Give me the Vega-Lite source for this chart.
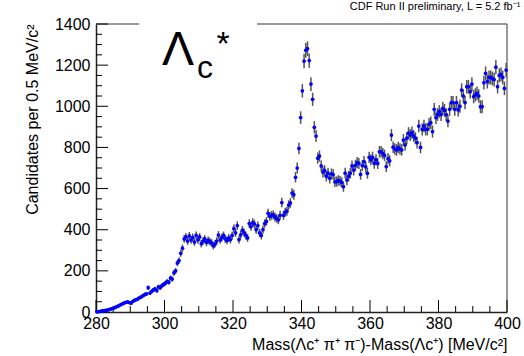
{
 "$schema": "https://vega.github.io/schema/vega-lite/v6.json",
 "width": 411, "height": 288,
 "autosize": "none",
 "padding": {"left": 96, "top": 24, "right": 17, "bottom": 44},
 "background": "white",
 "config": {"view": {"stroke": null}, "font": "Liberation Sans"},
 "title": {"text": "CDF Run II preliminary, L = 5.2 fb⁻¹", "anchor": "end", "fontSize": 11, "fontWeight": "normal", "font": "Liberation Sans", "color": "#000", "offset": 4},
 "datasets": {
  "hist": [
   {"m":280.25,"v":1,"e":1},{"m":280.75,"v":2,"e":1.4},{"m":281.25,"v":3,"e":1.7},{"m":281.75,"v":5,"e":2.2},{"m":282.25,"v":6,"e":2.4},{"m":282.75,"v":8,"e":2.8},{"m":283.25,"v":9,"e":3},{"m":283.75,"v":11,"e":3.3},{"m":284.25,"v":14,"e":3.7},{"m":284.75,"v":17,"e":4.1},
   {"m":285.25,"v":19,"e":4.4},{"m":285.75,"v":24,"e":4.9},{"m":286.25,"v":27,"e":5.2},{"m":286.75,"v":31,"e":5.6},{"m":287.25,"v":36,"e":6},{"m":287.75,"v":40,"e":6.3},{"m":288.25,"v":44,"e":6.6},{"m":288.75,"v":47,"e":6.9},{"m":289.25,"v":49,"e":7},{"m":289.75,"v":46,"e":6.8},
   {"m":290.25,"v":43,"e":6.6},{"m":290.75,"v":52,"e":7.2},{"m":291.25,"v":57,"e":7.5},{"m":291.75,"v":60,"e":7.7},{"m":292.25,"v":64,"e":8},{"m":292.75,"v":70,"e":8.4},{"m":293.25,"v":74,"e":8.6},{"m":293.75,"v":80,"e":8.9},{"m":294.25,"v":85,"e":9.2},{"m":294.75,"v":88,"e":9.4},
   {"m":295.25,"v":118,"e":10.9},{"m":295.75,"v":92,"e":9.6},{"m":296.25,"v":100,"e":10},{"m":296.75,"v":107,"e":10.3},{"m":297.25,"v":112,"e":10.6},{"m":297.75,"v":104,"e":10.2},{"m":298.25,"v":122,"e":11},{"m":298.75,"v":118,"e":10.9},{"m":299.25,"v":128,"e":11.3},{"m":299.75,"v":134,"e":11.6},
   {"m":300.25,"v":140,"e":11.8},{"m":300.75,"v":148,"e":12.2},{"m":301.25,"v":145,"e":12},{"m":301.75,"v":165,"e":12.8},{"m":302.25,"v":160,"e":12.6},{"m":302.75,"v":190,"e":13.8},{"m":303.25,"v":200,"e":14.1},{"m":303.75,"v":238,"e":15.4},{"m":304.25,"v":250,"e":15.8},{"m":304.75,"v":285,"e":16.9},
   {"m":305.25,"v":310,"e":17.6},{"m":305.75,"v":355,"e":18.8},{"m":306.25,"v":365,"e":19.1},{"m":306.75,"v":345,"e":18.6},{"m":307.25,"v":370,"e":19.2},{"m":307.75,"v":350,"e":18.7},{"m":308.25,"v":362,"e":19},{"m":308.75,"v":340,"e":18.4},{"m":309.25,"v":372,"e":19.3},{"m":309.75,"v":350,"e":18.7},
   {"m":310.25,"v":365,"e":19.1},{"m":310.75,"v":332,"e":18.2},{"m":311.25,"v":345,"e":18.6},{"m":311.75,"v":355,"e":18.8},{"m":312.25,"v":338,"e":18.4},{"m":312.75,"v":348,"e":18.7},{"m":313.25,"v":342,"e":18.5},{"m":313.75,"v":336,"e":18.3},{"m":314.25,"v":322,"e":17.9},{"m":314.75,"v":330,"e":18.2},
   {"m":315.25,"v":345,"e":18.6},{"m":315.75,"v":374,"e":19.3},{"m":316.25,"v":350,"e":18.7},{"m":316.75,"v":362,"e":19},{"m":317.25,"v":372,"e":19.3},{"m":317.75,"v":355,"e":18.8},{"m":318.25,"v":348,"e":18.7},{"m":318.75,"v":360,"e":19},{"m":319.25,"v":352,"e":18.8},{"m":319.75,"v":372,"e":19.3},
   {"m":320.25,"v":405,"e":20.1},{"m":320.75,"v":385,"e":19.6},{"m":321.25,"v":420,"e":20.5},{"m":321.75,"v":352,"e":18.8},{"m":322.25,"v":375,"e":19.4},{"m":322.75,"v":398,"e":19.9},{"m":323.25,"v":385,"e":19.6},{"m":323.75,"v":372,"e":19.3},{"m":324.25,"v":360,"e":19},{"m":324.75,"v":430,"e":20.7},
   {"m":325.25,"v":415,"e":20.4},{"m":325.75,"v":435,"e":20.9},{"m":326.25,"v":428,"e":20.7},{"m":326.75,"v":400,"e":20},{"m":327.25,"v":420,"e":20.5},{"m":327.75,"v":385,"e":19.6},{"m":328.25,"v":372,"e":19.3},{"m":328.75,"v":400,"e":20},{"m":329.25,"v":430,"e":20.7},{"m":329.75,"v":440,"e":21},
   {"m":330.25,"v":480,"e":21.9},{"m":330.75,"v":465,"e":21.6},{"m":331.25,"v":470,"e":21.7},{"m":331.75,"v":472,"e":21.7},{"m":332.25,"v":462,"e":21.5},{"m":332.75,"v":455,"e":21.3},{"m":333.25,"v":448,"e":21.2},{"m":333.75,"v":470,"e":21.7},{"m":334.25,"v":532,"e":23.1},{"m":334.75,"v":470,"e":21.7},
   {"m":335.25,"v":485,"e":22},{"m":335.75,"v":490,"e":22.1},{"m":336.25,"v":520,"e":22.8},{"m":336.75,"v":530,"e":23},{"m":337.25,"v":578,"e":24},{"m":337.75,"v":570,"e":23.9},{"m":338.25,"v":655,"e":25.6},{"m":338.75,"v":700,"e":26.5},{"m":339.25,"v":795,"e":28.2},{"m":339.75,"v":945,"e":30.7},
   {"m":340.25,"v":1075,"e":32.8},{"m":340.75,"v":1220,"e":34.9},{"m":341.25,"v":1272,"e":35.7},{"m":341.75,"v":1280,"e":35.8},{"m":342.25,"v":1222,"e":35},{"m":342.75,"v":1108,"e":33.3},{"m":343.25,"v":1034,"e":32.2},{"m":343.75,"v":898,"e":30},{"m":344.25,"v":855,"e":29.2},{"m":344.75,"v":748,"e":27.3},
   {"m":345.25,"v":758,"e":27.5},{"m":345.75,"v":710,"e":26.6},{"m":346.25,"v":680,"e":26.1},{"m":346.75,"v":688,"e":26.2},{"m":347.25,"v":660,"e":25.7},{"m":347.75,"v":675,"e":26},{"m":348.25,"v":650,"e":25.5},{"m":348.75,"v":672,"e":25.9},{"m":349.25,"v":668,"e":25.8},{"m":349.75,"v":633,"e":25.2},
   {"m":350.25,"v":634,"e":25.2},{"m":350.75,"v":640,"e":25.3},{"m":351.25,"v":636,"e":25.2},{"m":351.75,"v":630,"e":25.1},{"m":352.25,"v":609,"e":24.7},{"m":352.75,"v":675,"e":26},{"m":353.25,"v":642,"e":25.3},{"m":353.75,"v":660,"e":25.7},{"m":354.25,"v":675,"e":26},{"m":354.75,"v":710,"e":26.6},
   {"m":355.25,"v":690,"e":26.3},{"m":355.75,"v":713,"e":26.7},{"m":356.25,"v":726,"e":26.9},{"m":356.75,"v":722,"e":26.9},{"m":357.25,"v":669,"e":25.9},{"m":357.75,"v":712,"e":26.7},{"m":358.25,"v":731,"e":27},{"m":358.75,"v":705,"e":26.6},{"m":359.25,"v":674,"e":26},{"m":359.75,"v":752,"e":27.4},
   {"m":360.25,"v":740,"e":27.2},{"m":360.75,"v":752,"e":27.4},{"m":361.25,"v":723,"e":26.9},{"m":361.75,"v":740,"e":27.2},{"m":362.25,"v":722,"e":26.9},{"m":362.75,"v":779,"e":27.9},{"m":363.25,"v":779,"e":27.9},{"m":363.75,"v":770,"e":27.7},{"m":364.25,"v":761,"e":27.6},{"m":364.75,"v":707,"e":26.6},
   {"m":365.25,"v":746,"e":27.3},{"m":365.75,"v":735,"e":27.1},{"m":366.25,"v":860,"e":29.3},{"m":366.75,"v":801,"e":28.3},{"m":367.25,"v":792,"e":28.1},{"m":367.75,"v":788,"e":28.1},{"m":368.25,"v":800,"e":28.3},{"m":368.75,"v":792,"e":28.1},{"m":369.25,"v":788,"e":28.1},{"m":369.75,"v":836,"e":28.9},
   {"m":370.25,"v":812,"e":28.5},{"m":370.75,"v":845,"e":29.1},{"m":371.25,"v":869,"e":29.5},{"m":371.75,"v":860,"e":29.3},{"m":372.25,"v":872,"e":29.5},{"m":372.75,"v":856,"e":29.3},{"m":373.25,"v":845,"e":29.1},{"m":373.75,"v":823,"e":28.7},{"m":374.25,"v":904,"e":30.1},{"m":374.75,"v":800,"e":28.3},
   {"m":375.25,"v":888,"e":29.8},{"m":375.75,"v":904,"e":30.1},{"m":376.25,"v":888,"e":29.8},{"m":376.75,"v":888,"e":29.8},{"m":377.25,"v":913,"e":30.2},{"m":377.75,"v":920,"e":30.3},{"m":378.25,"v":877,"e":29.6},{"m":378.75,"v":985,"e":31.4},{"m":379.25,"v":945,"e":30.7},{"m":379.75,"v":960,"e":31},
   {"m":380.25,"v":975,"e":31.2},{"m":380.75,"v":960,"e":31},{"m":381.25,"v":990,"e":31.5},{"m":381.75,"v":980,"e":31.3},{"m":382.25,"v":960,"e":31},{"m":382.75,"v":928,"e":30.5},{"m":383.25,"v":985,"e":31.4},{"m":383.75,"v":1018,"e":31.9},{"m":384.25,"v":1018,"e":31.9},{"m":384.75,"v":985,"e":31.4},
   {"m":385.25,"v":1018,"e":31.9},{"m":385.75,"v":982,"e":31.3},{"m":386.25,"v":1000,"e":31.6},{"m":386.75,"v":1079,"e":32.8},{"m":387.25,"v":1050,"e":32.4},{"m":387.75,"v":1018,"e":31.9},{"m":388.25,"v":1095,"e":33.1},{"m":388.75,"v":1095,"e":33.1},{"m":389.25,"v":1071,"e":32.7},{"m":389.75,"v":1108,"e":33.3},
   {"m":390.25,"v":1047,"e":32.4},{"m":390.75,"v":1055,"e":32.5},{"m":391.25,"v":1063,"e":32.6},{"m":391.75,"v":1050,"e":32.4},{"m":392.25,"v":998,"e":31.6},{"m":392.75,"v":998,"e":31.6},{"m":393.25,"v":1115,"e":33.4},{"m":393.75,"v":1160,"e":34.1},{"m":394.25,"v":1120,"e":33.5},{"m":394.75,"v":1140,"e":33.8},
   {"m":395.25,"v":1140,"e":33.8},{"m":395.75,"v":1135,"e":33.7},{"m":396.25,"v":1130,"e":33.6},{"m":396.75,"v":1190,"e":34.5},{"m":397.25,"v":1095,"e":33.1},{"m":397.75,"v":1150,"e":33.9},{"m":398.25,"v":1155,"e":34},{"m":398.75,"v":1140,"e":33.8},{"m":399.25,"v":1087,"e":33},{"m":399.75,"v":1176,"e":34.3}
  ],
  "frame": [
   {"m":280,"m2":292.6,"v":1400,"v2":1400},
   {"m":327,"m2":400,"v":1400,"v2":1400},
   {"m":400,"m2":400,"v":0,"v2":1400}
  ],
  "ymaj": [{"v":0},{"v":200},{"v":400},{"v":600},{"v":800},{"v":1000},{"v":1200},{"v":1400}],
  "ymin": [{"v":50},{"v":100},{"v":150},{"v":250},{"v":300},{"v":350},{"v":450},{"v":500},{"v":550},{"v":650},{"v":700},{"v":750},{"v":850},{"v":900},{"v":950},{"v":1050},{"v":1100},{"v":1150},{"v":1250},{"v":1300},{"v":1350}],
  "xmaj": [{"m":280},{"m":300},{"m":320},{"m":340},{"m":360},{"m":380},{"m":400}],
  "xmin": [{"m":285},{"m":290},{"m":295},{"m":305},{"m":310},{"m":315},{"m":325},{"m":330},{"m":335},{"m":345},{"m":350},{"m":355},{"m":365},{"m":370},{"m":375},{"m":385},{"m":390},{"m":395}]
 },
 "layer": [
  {
   "data": {"name": "frame"},
   "mark": {"type": "rule", "color": "#777", "strokeWidth": 1.5},
   "encoding": {
    "x": {"field": "m", "type": "quantitative", "title": "Mass(Λc⁺ π⁺ π⁻)-Mass(Λc⁺) [MeV/c²]", "scale": {"domain": [280, 400], "nice": false, "zero": false}},
    "x2": {"field": "m2"},
    "y": {"field": "v", "type": "quantitative", "title": "Candidates per 0.5 MeV/c²", "scale": {"domain": [0, 1400], "nice": false}},
    "y2": {"field": "v2"}
   }
  },
  {
   "data": {"name": "ymaj"},
   "mark": {"type": "rule", "color": "#000", "strokeWidth": 1},
   "encoding": {
    "y": {"field": "v", "type": "quantitative", "title": "Candidates per 0.5 MeV/c²"},
    "x": {"datum": 280}, "x2": {"datum": 283.5}
   }
  },
  {
   "data": {"name": "ymin"},
   "mark": {"type": "rule", "color": "#000", "strokeWidth": 1},
   "encoding": {
    "y": {"field": "v", "type": "quantitative", "title": "Candidates per 0.5 MeV/c²"},
    "x": {"datum": 280}, "x2": {"datum": 281.75}
   }
  },
  {
   "data": {"name": "xmaj"},
   "mark": {"type": "rule", "color": "#000", "strokeWidth": 1},
   "encoding": {
    "x": {"field": "m", "type": "quantitative", "title": "Mass(Λc⁺ π⁺ π⁻)-Mass(Λc⁺) [MeV/c²]"},
    "y": {"datum": 0}, "y2": {"datum": 58}
   }
  },
  {
   "data": {"name": "xmin"},
   "mark": {"type": "rule", "color": "#000", "strokeWidth": 1},
   "encoding": {
    "x": {"field": "m", "type": "quantitative", "title": "Mass(Λc⁺ π⁺ π⁻)-Mass(Λc⁺) [MeV/c²]"},
    "y": {"datum": 0}, "y2": {"datum": 29}
   }
  },
  {
   "data": {"name": "hist"},
   "mark": {"type": "errorbar", "ticks": false, "color": "#555", "thickness": 1.5},
   "encoding": {
    "x": {"field": "m", "type": "quantitative", "title": "Mass(Λc⁺ π⁺ π⁻)-Mass(Λc⁺) [MeV/c²]"},
    "y": {"field": "v", "type": "quantitative", "title": "Candidates per 0.5 MeV/c²"},
    "yError": {"field": "e"}
   }
  },
  {
   "data": {"name": "hist"},
   "mark": {"type": "point", "filled": true, "color": "#0000ff", "opacity": 1, "size": 14},
   "encoding": {
    "x": {"field": "m", "type": "quantitative", "title": "Mass(Λc⁺ π⁺ π⁻)-Mass(Λc⁺) [MeV/c²]",
     "axis": {"values": [280,300,320,340,360,380,400], "labelFlush": false, "labelOverlap": false,
      "ticks": false, "domainColor": "#222", "domainWidth": 1.5, "grid": false,
      "labelFontSize": 16, "labelColor": "#000", "labelPadding": 3, "labelFont": "Liberation Sans",
      "titleFontSize": 16, "titleFontWeight": "normal", "titleColor": "#000", "titleAnchor": "end", "titlePadding": 5, "titleFont": "Liberation Sans"}},
    "y": {"field": "v", "type": "quantitative", "title": "Candidates per 0.5 MeV/c²",
     "axis": {"values": [0,200,400,600,800,1000,1200,1400], "format": "d", "labelOverlap": false,
      "ticks": false, "domainColor": "#222", "domainWidth": 1.5, "grid": false,
      "labelFontSize": 16, "labelColor": "#000", "labelPadding": 6, "labelFont": "Liberation Sans",
      "titleFontSize": 16, "titleFontWeight": "normal", "titleColor": "#000", "titleAnchor": "end", "titlePadding": 14, "titleFont": "Liberation Sans"}}
   }
  },
  {
   "data": {"values": [{}]},
   "mark": {"type": "text", "text": "Λ", "fontSize": 48, "font": "Liberation Sans", "align": "left", "baseline": "alphabetic", "color": "#000"},
   "encoding": {"x": {"datum": 299.3}, "y": {"datum": 1200}}
  },
  {
   "data": {"values": [{}]},
   "mark": {"type": "text", "text": "c", "fontSize": 32, "font": "Liberation Sans", "align": "left", "baseline": "alphabetic", "color": "#000"},
   "encoding": {"x": {"datum": 309.5}, "y": {"datum": 1138}}
  },
  {
   "data": {"values": [{}]},
   "mark": {"type": "text", "text": "*", "fontSize": 34, "font": "Liberation Sans", "align": "left", "baseline": "top", "color": "#000"},
   "encoding": {"x": {"datum": 315.2}, "y": {"datum": 1380}}
  }
 ]
}
